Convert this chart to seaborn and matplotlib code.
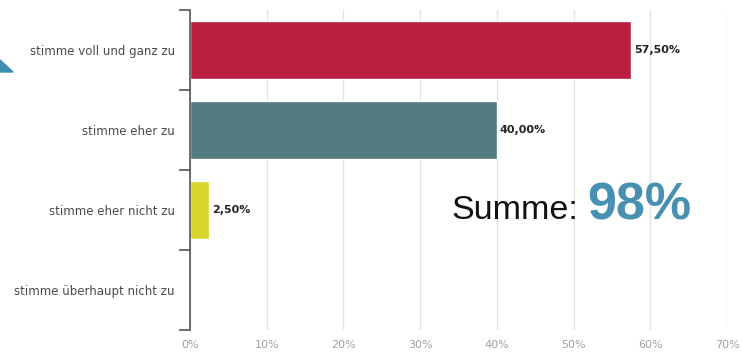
import matplotlib
matplotlib.use("Agg")
import matplotlib.pyplot as plt
from matplotlib.patches import Polygon
import seaborn as sns
import pandas as pd

# Survey answers and their shares (percent)
categories = [
    "stimme voll und ganz zu",
    "stimme eher zu",
    "stimme eher nicht zu",
    "stimme überhaupt nicht zu",
]
shares = [57.5, 40.0, 2.5, 0.0]
bar_colors = ["#b81f40", "#527c82", "#d6d62c", "#999999"]
x_ticks = [0, 10, 20, 30, 40, 50, 60, 70]
x_tick_labels = [f"{t}%" for t in x_ticks]

df = pd.DataFrame({"Antwort": categories, "Anteil": shares})

sns.set_theme(style="white")
plt.rcParams["font.family"] = ["DejaVu Sans"]

fig = plt.figure(figsize=(7.42, 3.54), dpi=100)
ax = fig.add_axes([190 / 742, 1 - 330 / 354, (727 - 190) / 742, 320 / 354])

sns.barplot(
    data=df, y="Antwort", x="Anteil", hue="Antwort",
    palette=bar_colors, orient="h", width=0.72, legend=False,
    saturation=1, ax=ax,
)

ax.set_xlim(0, 70)
ax.set_ylim(3.5, -0.5)
ax.set_xlabel("")
ax.set_ylabel("")

# vertical grid lines
ax.set_xticks(x_ticks)
ax.set_xticklabels(x_tick_labels, fontsize=8, color="#a0a0a0")
ax.xaxis.grid(True, color="#e4e4e4", linewidth=1)
ax.set_axisbelow(True)
ax.tick_params(axis="x", length=0, pad=7)

# category labels, with boundary ticks between the bands
ax.set_yticks(range(len(categories)))
ax.set_yticklabels(categories, fontsize=8.5, color="#4a4a4a")
ax.tick_params(axis="y", which="major", length=0, pad=11)
ax.set_yticks([i - 0.5 for i in range(len(categories) + 1)], minor=True)
ax.tick_params(axis="y", which="minor", length=8, width=1.2,
               color="#555555", direction="out", left=True)

for side in ["top", "right", "bottom"]:
    ax.spines[side].set_visible(False)
ax.spines["left"].set_color("#555555")
ax.spines["left"].set_linewidth(1.2)

# value labels next to each bar
for i, v in enumerate(shares):
    if v > 0:
        label = f"{v:.2f}".replace(".", ",") + "%"
        ax.text(v + 0.4, i, label, va="center", ha="left",
                fontsize=8, fontweight="bold", color="#222222")

# total agreement
total = shares[0] + shares[1]
fig.text(451 / 742, 1 - 219 / 354, "Summe:", fontsize=24.5,
         family="Liberation Sans", color="#111111", ha="left", va="baseline")
fig.text(587 / 742, 1 - 219 / 354, f"{total:.0f}%", fontsize=37.5,
         family="Liberation Sans", fontweight="bold", color="#4790b2",
         ha="left", va="baseline")

# decorative wedge at the left edge
wedge = Polygon([(0, 1 - 60 / 354), (13 / 742, 1 - 72 / 354), (0, 1 - 72 / 354)],
                closed=True, transform=fig.transFigure, color="#3d8db0",
                clip_on=False)
fig.patches.append(wedge)

fig.savefig("out.png", dpi=100)
